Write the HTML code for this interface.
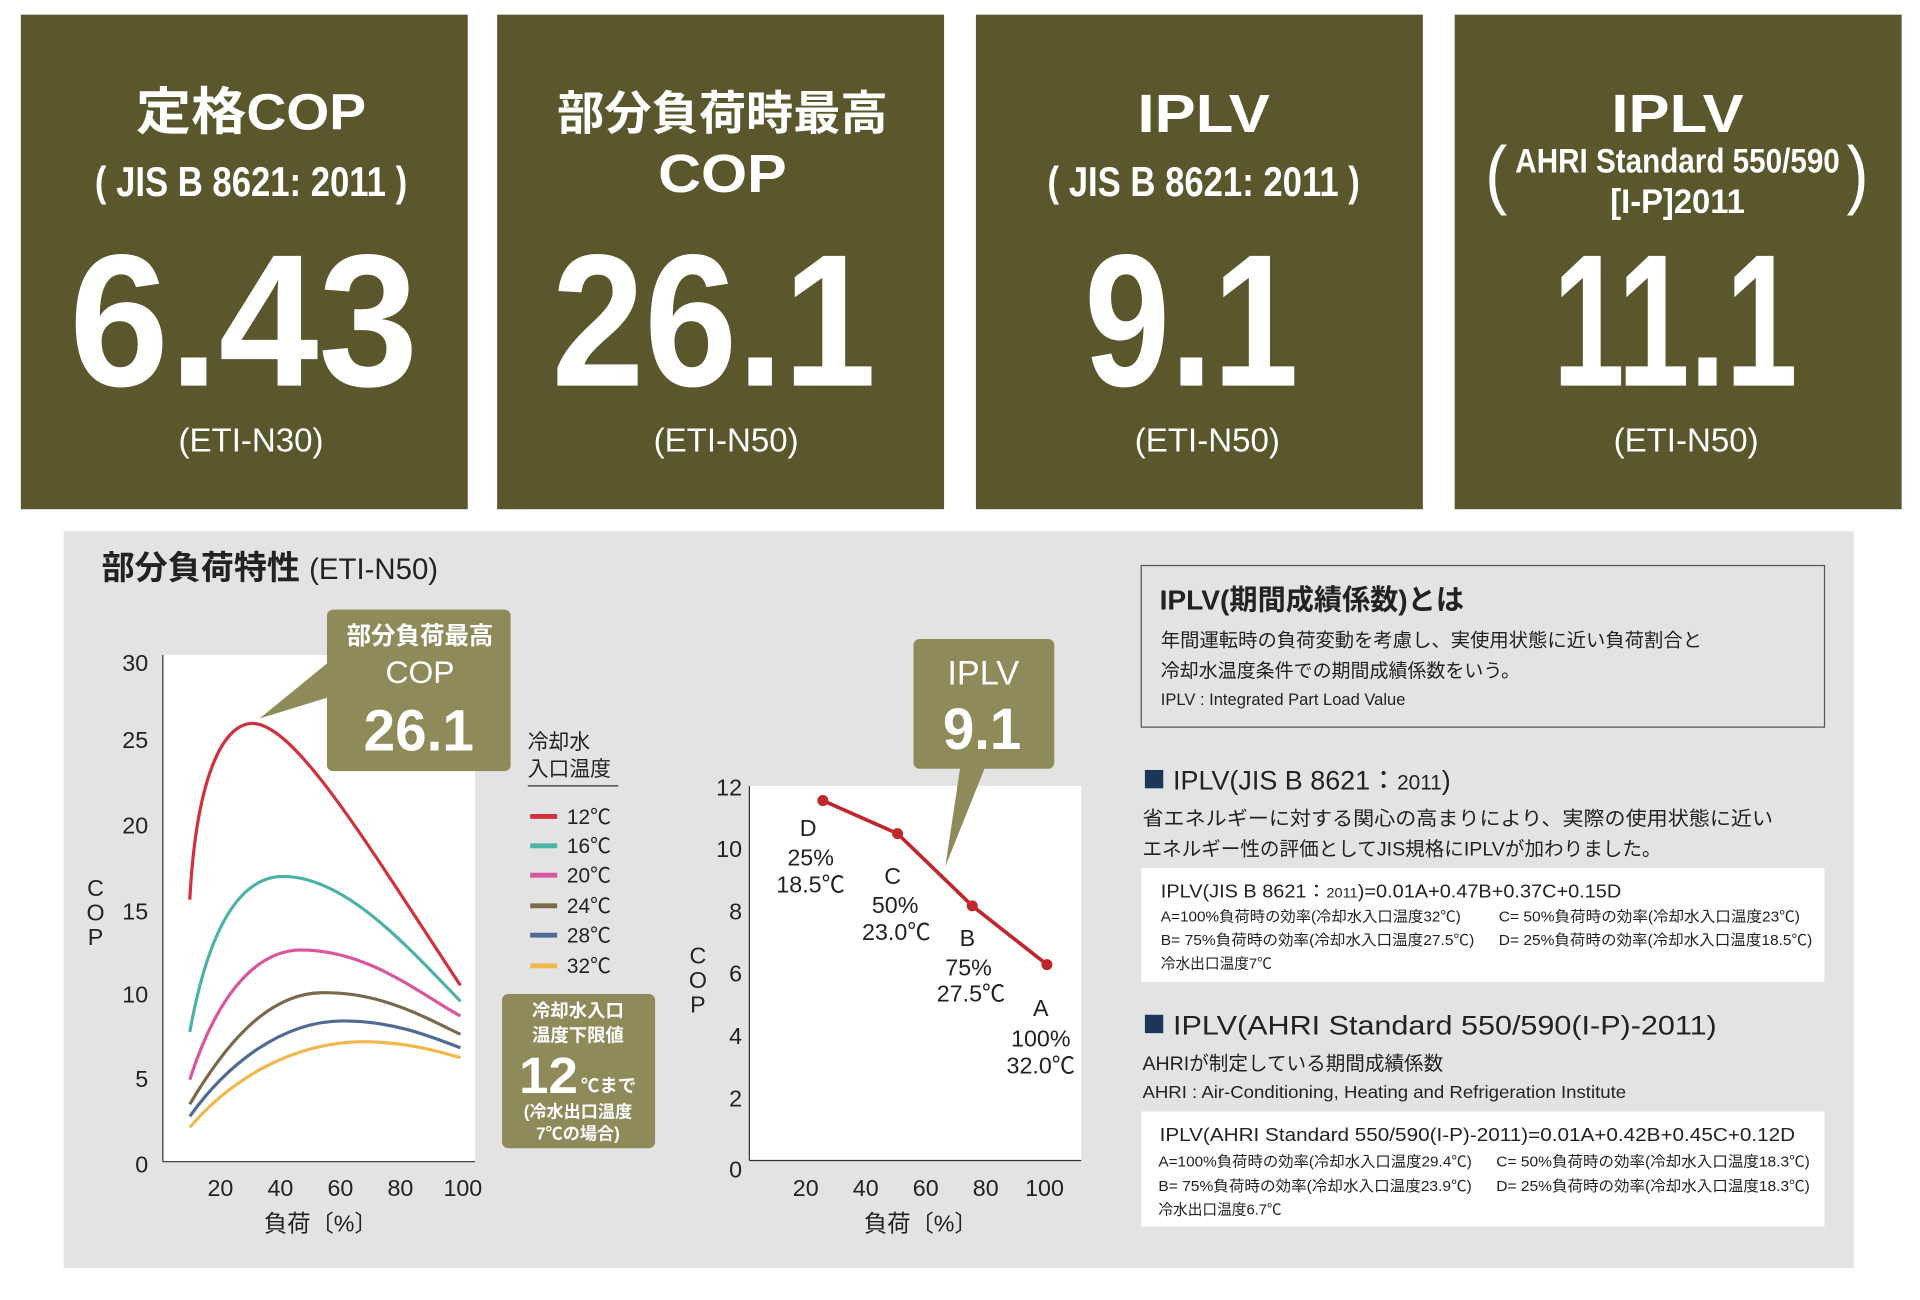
<!DOCTYPE html>
<html><head><meta charset="utf-8"><style>
html,body{margin:0;padding:0;background:#fff;}
svg{display:block;}
text{font-family:"Liberation Sans","Noto Sans CJK JP",sans-serif;}
.w{fill:#fff;}
.b{font-weight:bold;}
</style></head><body>
<svg width="1920" height="1300" viewBox="0 0 1568 1062" preserveAspectRatio="none" xmlns="http://www.w3.org/2000/svg">
<rect width="1568" height="1062" fill="#fff"/>
<g fill="#59572b">
<rect x="17" y="12" width="365" height="404"/>
<rect x="406" y="12" width="365" height="404"/>
<rect x="797" y="12" width="365" height="404"/>
<rect x="1188" y="12" width="365" height="404"/>
</g>
<g class="w b" text-anchor="middle">
<text x="205" y="106" font-size="42" textLength="188" lengthAdjust="spacingAndGlyphs">定格COP</text>
<text x="205" y="160" font-size="34" textLength="255" lengthAdjust="spacingAndGlyphs">( JIS B 8621: 2011 )</text>
<text x="199" y="315" font-size="154" textLength="285" lengthAdjust="spacingAndGlyphs">6.43</text>
<text x="590" y="106" font-size="38" textLength="270" lengthAdjust="spacingAndGlyphs">部分負荷時最高</text>
<text x="590" y="157" font-size="44" textLength="105" lengthAdjust="spacingAndGlyphs">COP</text>
<text x="583" y="315" font-size="154" textLength="265" lengthAdjust="spacingAndGlyphs">26.1</text>
<text x="983" y="108" font-size="44" textLength="108" lengthAdjust="spacingAndGlyphs">IPLV</text>
<text x="983" y="160" font-size="34" textLength="255" lengthAdjust="spacingAndGlyphs">( JIS B 8621: 2011 )</text>
<text x="973" y="315" font-size="154" textLength="175" lengthAdjust="spacingAndGlyphs">9.1</text>
<text x="1370" y="108" font-size="44" textLength="108" lengthAdjust="spacingAndGlyphs">IPLV</text>
<text x="1370" y="141" font-size="28" textLength="265" lengthAdjust="spacingAndGlyphs">AHRI Standard 550/590</text>
<text x="1370" y="174" font-size="28" textLength="110" lengthAdjust="spacingAndGlyphs">[I-P]2011</text>
<text x="1368" y="315" font-size="154" textLength="200" lengthAdjust="spacingAndGlyphs">11.1</text>
</g>
<g class="w" font-size="62" font-weight="normal">
<text x="1213" y="163" textLength="18" lengthAdjust="spacingAndGlyphs">(</text>
<text x="1508" y="163" textLength="18" lengthAdjust="spacingAndGlyphs">)</text>
</g>
<g class="w" font-size="27" text-anchor="middle">
<text x="205" y="369">(ETI-N30)</text>
<text x="593" y="369">(ETI-N50)</text>
<text x="986" y="369">(ETI-N50)</text>
<text x="1377" y="369">(ETI-N50)</text>
</g>
<rect x="52" y="434" width="1462" height="602" fill="#e3e3e3"/>
<text x="83" y="473" font-size="27" font-weight="bold" fill="#222">部分負荷特性 <tspan font-size="24" font-weight="normal">(ETI-N50)</tspan></text>
<rect x="133" y="535" width="255" height="414" fill="#fff"/>
<line x1="133" y1="535" x2="133" y2="949" stroke="#333" stroke-width="1"/>
<line x1="133" y1="949" x2="388" y2="949" stroke="#333" stroke-width="1"/>
<g font-size="19" fill="#222" text-anchor="end">
<text x="121" y="958">0</text><text x="121" y="888">5</text><text x="121" y="819">10</text>
<text x="121" y="751">15</text><text x="121" y="681">20</text><text x="121" y="611">25</text><text x="121" y="548">30</text>
</g>
<g font-size="19" fill="#222" text-anchor="middle">
<text x="180" y="977">20</text><text x="229" y="977">40</text><text x="278" y="977">60</text><text x="327" y="977">80</text><text x="378" y="977">100</text>
<text x="262" y="1006" font-size="19">負荷〔%〕</text>
<text x="78" y="732">C</text><text x="78" y="752">O</text><text x="78" y="772">P</text>
</g>
<g fill="none" stroke-width="2.6">
<path d="M155,735 C160,640 180,593 205,591 C240,589 300,690 376,805" stroke="#d2303a"/>
<path d="M155,843 C170,760 195,717 230,716 C280,715 330,770 376,818" stroke="#4bb3a5"/>
<path d="M155,882 C175,820 205,777 245,776 C300,776 340,810 376,830" stroke="#d9569a"/>
<path d="M155,902 C180,860 215,812 262,811 C310,810 345,830 376,845" stroke="#7a6a4a"/>
<path d="M155,912 C185,870 230,834 280,834 C320,834 350,846 376,856" stroke="#4e6a95"/>
<path d="M155,921 C190,880 240,852 295,851 C330,851 355,858 376,864" stroke="#f2b64a"/>
</g>
<path d="M272,498 h140 a5,5 0 0 1 5,5 v122 a5,5 0 0 1 -5,5 h-140 a5,5 0 0 1 -5,-5 v-55 l-55,17 l55,-45 v-39 a5,5 0 0 1 5,-5z" fill="#8f8a5a"/>
<g class="w" text-anchor="middle">
<text x="343" y="526" font-size="20" font-weight="bold">部分負荷最高</text>
<text x="343" y="558" font-size="26">COP</text>
<text x="342" y="613" font-size="48" font-weight="bold" textLength="90" lengthAdjust="spacingAndGlyphs">26.1</text>
</g>
<g font-size="17" fill="#222">
<text x="431" y="612">冷却水</text><text x="431" y="634">入口温度</text>
<line x1="431" y1="642" x2="505" y2="642" stroke="#333"/>
<text x="463" y="673">12℃</text><text x="463" y="697">16℃</text><text x="463" y="721">20℃</text>
<text x="463" y="746">24℃</text><text x="463" y="770">28℃</text><text x="463" y="795">32℃</text>
</g>
<g stroke-width="4">
<line x1="433" y1="667" x2="455" y2="667" stroke="#d2303a"/>
<line x1="433" y1="691" x2="455" y2="691" stroke="#4bb3a5"/>
<line x1="433" y1="715" x2="455" y2="715" stroke="#d9569a"/>
<line x1="433" y1="740" x2="455" y2="740" stroke="#7a6a4a"/>
<line x1="433" y1="764" x2="455" y2="764" stroke="#4e6a95"/>
<line x1="433" y1="789" x2="455" y2="789" stroke="#f2b64a"/>
</g>
<rect x="410" y="812" width="125" height="126" rx="5" fill="#8f8a5a"/>
<g class="w" text-anchor="middle" font-weight="bold">
<text x="472" y="831" font-size="15">冷却水入口</text>
<text x="472" y="851" font-size="15">温度下限値</text>
<text x="448" y="893" font-size="42" textLength="48" lengthAdjust="spacingAndGlyphs">12</text>
<text x="497" y="892" font-size="15">℃まで</text>
<text x="472" y="913" font-size="14">(冷水出口温度</text>
<text x="472" y="931" font-size="14">7℃の場合)</text>
</g>
<rect x="612" y="642" width="271" height="306" fill="#fff"/>
<line x1="612" y1="642" x2="612" y2="948" stroke="#333"/>
<line x1="612" y1="948" x2="883" y2="948" stroke="#333"/>
<g font-size="19" fill="#222" text-anchor="end">
<text x="606" y="962">0</text><text x="606" y="904">2</text><text x="606" y="853">4</text>
<text x="606" y="802">6</text><text x="606" y="751">8</text><text x="606" y="700">10</text><text x="606" y="650">12</text>
</g>
<g font-size="19" fill="#222" text-anchor="middle">
<text x="658" y="977">20</text><text x="707" y="977">40</text><text x="756" y="977">60</text><text x="805" y="977">80</text><text x="853" y="977">100</text>
<text x="752" y="1006">負荷〔%〕</text>
<text x="570" y="787">C</text><text x="570" y="807">O</text><text x="570" y="827">P</text>
</g>
<polyline points="672,654 733,681 794,740 855,788" fill="none" stroke="#c0272d" stroke-width="3"/>
<g fill="#c0272d"><circle cx="672" cy="654" r="4.5"/><circle cx="733" cy="681" r="4.5"/><circle cx="794" cy="740" r="4.5"/><circle cx="855" cy="788" r="4.5"/></g>
<g font-size="19" fill="#222" text-anchor="middle">
<text x="660" y="683">D</text><text x="662" y="707">25%</text><text x="662" y="729">18.5℃</text>
<text x="729" y="722">C</text><text x="731" y="746">50%</text><text x="732" y="768">23.0℃</text>
<text x="790" y="773">B</text><text x="791" y="797">75%</text><text x="793" y="818">27.5℃</text>
<text x="850" y="830">A</text><text x="850" y="855">100%</text><text x="850" y="877">32.0℃</text>
</g>
<path d="M751,522 h105 a5,5 0 0 1 5,5 v96 a5,5 0 0 1 -5,5 h-52 l-32,80 l12,-80 h-33 a5,5 0 0 1 -5,-5 v-96 a5,5 0 0 1 5,-5z" fill="#8f8a5a"/>
<g class="w" text-anchor="middle">
<text x="803" y="559" font-size="28">IPLV</text>
<text x="802" y="612" font-size="48" font-weight="bold" textLength="64" lengthAdjust="spacingAndGlyphs">9.1</text>
</g>
<rect x="932" y="462" width="558" height="132" fill="none" stroke="#555" stroke-width="1"/>
<g fill="#222">
<text x="947" y="498" font-size="23" font-weight="bold">IPLV(期間成績係数)とは</text>
<text x="948" y="528" font-size="15.5" textLength="442" lengthAdjust="spacingAndGlyphs">年間運転時の負荷変動を考慮し、実使用状態に近い負荷割合と</text>
<text x="948" y="553" font-size="15.5">冷却水温度条件での期間成績係数をいう。</text>
<text x="948" y="576" font-size="13.5">IPLV : Integrated Part Load Value</text>
<rect x="935" y="629" width="15" height="15" fill="#1c3559"/>
<text x="958" y="645" font-size="22">IPLV(JIS B 8621：<tspan font-size="17">2011</tspan>)</text>
<text x="933" y="674" font-size="16" textLength="515" lengthAdjust="spacingAndGlyphs">省エネルギーに対する関心の高まりにより、実際の使用状態に近い</text>
<text x="933" y="699" font-size="16">エネルギー性の評価としてJIS規格にIPLVが加わりました。</text>
</g>
<rect x="932" y="709" width="558" height="93" fill="#fff"/>
<g fill="#222">
<text x="948" y="733" font-size="15" textLength="376" lengthAdjust="spacingAndGlyphs">IPLV(JIS B 8621：<tspan font-size="11">2011</tspan>)=0.01A+0.47B+0.37C+0.15D</text>
<text x="948" y="753" font-size="12" textLength="245" lengthAdjust="spacingAndGlyphs">A=100%負荷時の効率(冷却水入口温度32℃)</text>
<text x="1224" y="753" font-size="12" textLength="246" lengthAdjust="spacingAndGlyphs">C=  50%負荷時の効率(冷却水入口温度23℃)</text>
<text x="948" y="772" font-size="12" textLength="256" lengthAdjust="spacingAndGlyphs">B=  75%負荷時の効率(冷却水入口温度27.5℃)</text>
<text x="1224" y="772" font-size="12" textLength="256" lengthAdjust="spacingAndGlyphs">D=  25%負荷時の効率(冷却水入口温度18.5℃)</text>
<text x="948" y="791" font-size="12">冷水出口温度7℃</text>
<rect x="935" y="829" width="15" height="15" fill="#1c3559"/>
<text x="958" y="845" font-size="22" textLength="444" lengthAdjust="spacingAndGlyphs">IPLV(AHRI Standard 550/590(I-P)-2011)</text>
<text x="933" y="874" font-size="16">AHRIが制定している期間成績係数</text>
<text x="933" y="897" font-size="14" textLength="395" lengthAdjust="spacingAndGlyphs">AHRI : Air-Conditioning, Heating and Refrigeration Institute</text>
</g>
<rect x="932" y="908" width="558" height="94" fill="#fff"/>
<g fill="#222">
<text x="947" y="932" font-size="15" textLength="519" lengthAdjust="spacingAndGlyphs">IPLV(AHRI Standard 550/590(I-P)-2011)=0.01A+0.42B+0.45C+0.12D</text>
<text x="946" y="953" font-size="12" textLength="256" lengthAdjust="spacingAndGlyphs">A=100%負荷時の効率(冷却水入口温度29.4℃)</text>
<text x="1222" y="953" font-size="12" textLength="256" lengthAdjust="spacingAndGlyphs">C=  50%負荷時の効率(冷却水入口温度18.3℃)</text>
<text x="946" y="973" font-size="12" textLength="256" lengthAdjust="spacingAndGlyphs">B=  75%負荷時の効率(冷却水入口温度23.9℃)</text>
<text x="1222" y="973" font-size="12" textLength="256" lengthAdjust="spacingAndGlyphs">D=  25%負荷時の効率(冷却水入口温度18.3℃)</text>
<text x="946" y="992" font-size="12">冷水出口温度6.7℃</text>
</g>
</svg>
</body></html>
